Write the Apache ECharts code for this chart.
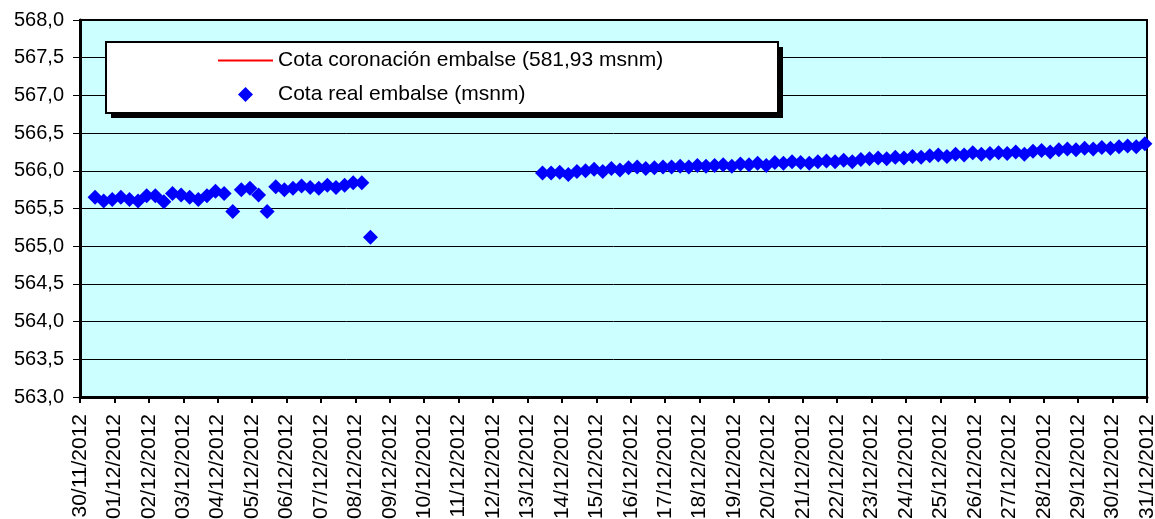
<!DOCTYPE html>
<html>
	<head>
		<title>Cota embalse</title>
		<meta http-equiv="content-type" content="text/html; charset=UTF-8">
		<script src="https://cdn.jsdelivr.net/npm/echarts@6/dist/echarts.min.js"></script>
		<style>
			html {height: 100%; width: 100%;}
			body {height: 100%; width: 100%; margin:0px; background:#fff;}
		</style>
		<script>
			// etiquetas del eje x (un dia por marca)
			const dias = ['30/11/2012','01/12/2012','02/12/2012','03/12/2012','04/12/2012','05/12/2012',
				'06/12/2012','07/12/2012','08/12/2012','09/12/2012','10/12/2012','11/12/2012',
				'12/12/2012','13/12/2012','14/12/2012','15/12/2012','16/12/2012','17/12/2012',
				'18/12/2012','19/12/2012','20/12/2012','21/12/2012','22/12/2012','23/12/2012',
				'24/12/2012','25/12/2012','26/12/2012','27/12/2012','28/12/2012','29/12/2012',
				'30/12/2012','31/12/2012'];
			const yTicks = [563.0, 563.5, 564.0, 564.5, 565.0, 565.5, 566.0, 566.5, 567.0, 567.5, 568.0];

			// lecturas cada 6 horas desde el 30/11 a las 10:30 (null = sin dato)
			const horaPrimera = 10.5;
			const pasoHoras = 6;
			const cotaReal = [
				565.65, 565.60, 565.62, 565.65, 565.62, 565.60, 565.67, 565.67, 565.59, 565.70,
				565.68, 565.65, 565.62, 565.67, 565.73, 565.70, 565.46, 565.75, 565.77, 565.68,
				565.46, 565.79, 565.75, 565.77, 565.80, 565.78, 565.77, 565.81, 565.78, 565.81,
				565.84, 565.84, 565.12,
				null, null, null, null, null, null, null, null, null, null,
				null, null, null, null, null, null, null, null, null,
				565.97, 565.97, 565.98, 565.95, 565.99, 566.00, 566.02, 565.99, 566.03, 566.01,
				566.04, 566.05, 566.03, 566.04, 566.05, 566.05, 566.06, 566.05, 566.07, 566.06,
				566.07, 566.08, 566.06, 566.09, 566.08, 566.10, 566.07, 566.11, 566.10, 566.12,
				566.11, 566.10, 566.12, 566.13, 566.12, 566.14, 566.12, 566.15, 566.16, 566.17,
				566.16, 566.18, 566.17, 566.19, 566.18, 566.20, 566.21, 566.19, 566.22, 566.21,
				566.24, 566.22, 566.23, 566.24, 566.23, 566.25, 566.22, 566.26, 566.27, 566.25,
				566.28, 566.29, 566.28, 566.30, 566.29, 566.31, 566.30, 566.32, 566.33, 566.32,
				566.36
			];
			const cotaCoronacion = 581.93;

			const FONT = "'Liberation Sans', Arial, sans-serif";

			function onload() {
				let chart = echarts.init(document.getElementById('container'));

				let puntos = [];
				cotaReal.forEach(function (v, i) {
					if (v !== null) puntos.push([(horaPrimera + i * pasoHoras) / 24, v]);
				});
				let coronacion = [[0, cotaCoronacion], [dias.length - 1, cotaCoronacion]];

				let option = {
					animation: false,
					textStyle: { fontFamily: FONT },
					grid: {
						left: 80, top: 20, right: 8, bottom: 122,
						outerBoundsMode: 'none',
						show: true, backgroundColor: '#CCFFFF',
						borderColor: '#000', borderWidth: 2
					},
					graphic: [
						{ type: 'rect', z: 5, shape: { x: 111, y: 47, width: 672, height: 71 },
							style: { fill: '#000' } },
						{ type: 'rect', z: 6, shape: { x: 106, y: 42, width: 672, height: 71 },
							style: { fill: '#fff', stroke: '#000', lineWidth: 2 } }
					],
					legend: {
						z: 10,
						orient: 'vertical',
						left: 106, top: 42,
						padding: [8, 10, 10, 112],
						itemWidth: 55, itemHeight: 15, itemGap: 13,
						symbolKeepAspect: true,
						textStyle: { fontFamily: FONT, fontSize: 21, color: '#000', lineHeight: 20 },
						data: [
							{ name: 'Cota coronación embalse (581,93 msnm)', icon: 'path://M0,0L55,0L55,2L0,2Z',
								itemStyle: { color: '#FF0000' } },
							{ name: 'Cota real embalse (msnm)', icon: 'path://M7,0L14,7L7,14L0,7Z',
								itemStyle: { color: '#0000FF' } }
						]
					},
					xAxis: {
						type: 'value',
						min: 0, max: dias.length - 1, interval: 1,
						splitLine: { show: false },
						axisLine: { lineStyle: { color: '#000', width: 3 } },
						axisTick: { inside: false, length: 6, lineStyle: { color: '#000', width: 2 } },
						axisLabel: {
							rotate: 90, margin: 17, fontSize: 21, color: '#000', fontFamily: FONT,
							showMinLabel: true, showMaxLabel: true,
							formatter: function (v) { return dias[Math.round(v)]; }
						}
					},
					yAxis: {
						type: 'value',
						min: yTicks[0], max: yTicks[yTicks.length - 1], interval: 0.5,
						axisLine: { show: true, lineStyle: { color: '#000', width: 3 } },
						axisTick: { show: true, length: 7, lineStyle: { color: '#000', width: 1 } },
						splitLine: { show: true, lineStyle: { color: '#000', width: 1 } },
						axisLabel: {
							margin: 16, fontSize: 20, color: '#000', fontFamily: FONT,
							formatter: function (v) { return v.toFixed(1).replace('.', ','); }
						}
					},
					series: [
						{
							name: 'Cota coronación embalse (581,93 msnm)',
							type: 'line',
							symbol: 'none',
							clip: true,
							lineStyle: { color: '#FF0000', width: 2 },
							itemStyle: { color: '#FF0000' },
							data: coronacion
						},
						{
							name: 'Cota real embalse (msnm)',
							type: 'scatter',
							symbol: 'diamond',
							symbolSize: [15, 15],
							itemStyle: { color: '#0000FF', opacity: 1 },
							data: puntos
						}
					]
				};
				chart.setOption(option);
			}
		</script>
	</head>
	<body onload="onload()">
		<div id="container" style="width:1155px;height:519px;"></div>
	</body>
</html>
